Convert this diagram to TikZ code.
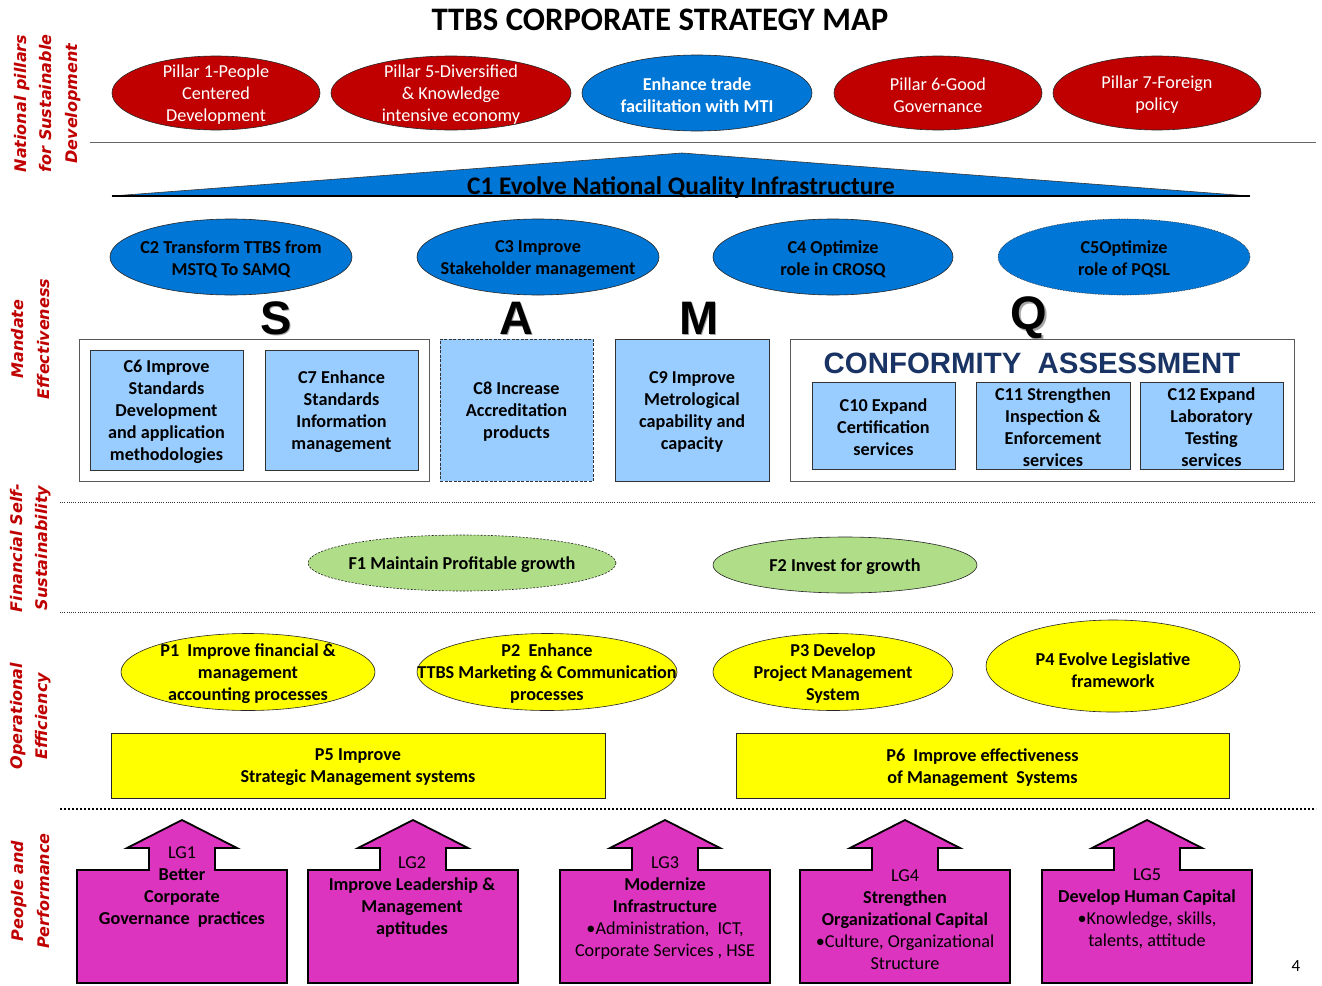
\documentclass[tikz,border=0pt]{standalone}
\usepackage{fontspec}
\setmainfont{Carlito}
\newfontfamily\dejafont{DejaVu Sans}
\newfontfamily\arialfont{Liberation Sans}
\usetikzlibrary{shapes.geometric}
\definecolor{pred}{RGB}{192,0,0}
\definecolor{oblue}{RGB}{0,118,214}
\definecolor{lblue}{RGB}{153,204,255}
\definecolor{fgreen}{RGB}{176,221,136}
\definecolor{pyel}{RGB}{255,255,0}
\definecolor{lgmag}{RGB}{220,52,190}
\definecolor{navy}{RGB}{25,52,100}
\tikzset{
  txt/.style={font=\fontsize{18.2}{22}\selectfont, align=center, inner sep=0pt, yshift=-2pt},
  btxt/.style={font=\fontsize{18.2}{22}\selectfont\bfseries, align=center, inner sep=0pt, yshift=-2pt},
  wtxt/.style={txt, text=white},
  wbtxt/.style={btxt, text=white},
  ov/.style={ellipse, draw=black!85, line width=0.6pt, inner sep=0pt},
  redov/.style={ov, fill=pred},
  blueov/.style={ov, fill=oblue},
  greenov/.style={ov, fill=fgreen},
  yelov/.style={ov, fill=pyel},
  bx/.style={draw=black!80, line width=0.8pt, fill=lblue, inner sep=0pt},
  outer/.style={draw=black!65, line width=0.8pt, fill=white, inner sep=0pt},
  ybx/.style={draw=black!85, line width=0.8pt, fill=pyel, inner sep=0pt},
  side/.style={rotate=90, text=pred, align=center, inner sep=0pt,
     font=\dejafont\bfseries\itshape\fontsize{16}{25.5}\selectfont},
  samq/.style={inner sep=0pt, font=\arialfont\bfseries\fontsize{47}{47}\selectfont},
  lg/.style={draw=black, line width=1.8pt, fill=lgmag, line join=miter},
  sep/.style={line width=1pt, dash pattern=on 1pt off 1.2pt, draw=black!80},
}
\newcommand\lgshape{%
  \draw[lg] (-105,983) -- (-105,870) -- (-33,870) -- (-33,848) -- (-55,848) -- (0,820)
    -- (55,848) -- (33,848) -- (33,870) -- (105,870) -- (105,983) -- cycle;}
\begin{document}
\begin{tikzpicture}[x=1pt,y=-1pt]
\useasboundingbox (0,0) rectangle (1322,985);
\fill[white] (0,0) rectangle (1322,985);

% title
\node[inner sep=0pt, font=\fontsize{32.8}{36}\selectfont\bfseries] (title) at (660,20) {TTBS CORPORATE STRATEGY MAP};

% side labels
\node[side] (lab1) at (47.5,103.5) {National pillars\\for Sustainable\\Development};
\node[side] (lab2) at (30.5,339) {Mandate\\Effectiveness};
\node[side] (lab3) at (30.5,548) {Financial Self-\\Sustainability};
\node[side] (lab4) at (30.5,716) {Operational\\Efficiency};
\node[side] (lab5) at (30.5,891) {People and\\Performance};

% national pillars
\node[redov, minimum width=208, minimum height=74] (np1) at (216,93) {};
\node[wtxt] (np1t) at (np1.center) {Pillar 1-People\\Centered\\Development};
\node[redov, minimum width=240, minimum height=74] (np5) at (451,93) {};
\node[wtxt] (np5t) at (np5.center) {Pillar 5-Diversified\\\& Knowledge\\intensive economy};
\node[blueov, minimum width=230, minimum height=76] (mti) at (697,93) {};
\node[wbtxt] (mtit) at (mti.center) {Enhance trade\\facilitation with MTI};
\node[redov, minimum width=208, minimum height=74] (np6) at (938,93) {};
\node[wtxt] (np6t) at (np6.center) {Pillar 6-Good\\Governance};
\node[redov, minimum width=208, minimum height=74] (np7) at (1157,93) {};
\node[wtxt] (np7t) at (np7.center) {Pillar 7-Foreign\\policy};

\draw[black!60, line width=0.8pt] (90,142) -- (1316,142);

% C1 triangle
\coordinate (c1l) at (112,196);
\coordinate (c1a) at (682,153);
\coordinate (c1r) at (1250,196);
\draw[fill=oblue, draw=black!80, line width=0.6pt] (c1l) -- (c1a) -- (c1r) -- cycle;
\draw[black, line width=1.5pt] (c1l) -- (c1r);
\node[inner sep=0pt, font=\fontsize{25.3}{28}\selectfont\bfseries] (c1t) at (681,187.5) {C1 Evolve National Quality Infrastructure};

% C2-C5
\node[blueov, minimum width=242, minimum height=76] (c2) at (231,257) {};
\node[btxt] (c2t) at (c2.center) {C2 Transform TTBS from\\MSTQ To SAMQ};
\node[blueov, minimum width=242, minimum height=76] (c3) at (538,257) {};
\node[btxt] (c3t) at (c3.center) {C3 Improve\\Stakeholder management};
\node[blueov, minimum width=240, minimum height=76] (c4) at (833,257) {};
\node[btxt] (c4t) at (c4.center) {C4 Optimize\\role in CROSQ};
\node[blueov, densely dotted, minimum width=252, minimum height=76] (c5) at (1124,257) {};
\node[btxt] (c5t) at (c5.center) {C5Optimize\\role of PQSL};

% SAMQ letters
\node[samq, text=black!35] (Ss) at (277.5,319.5) {S};
\node[samq] (S) at (276,318) {S};
\node[samq, text=black!35] (As) at (517.5,319.5) {A};
\node[samq] (A) at (516,318) {A};
\node[samq, text=black!35] (Ms) at (700.5,319.5) {M};
\node[samq] (M) at (699,318) {M};
\node[samq, text=black!35] (Qs) at (1030.5,319.5) {Q};
\node[samq] (Q) at (1029,318) {Q};

% S box
\node[outer, minimum width=350, minimum height=142] (sbox) at (254,410) {};
\node[bx, minimum width=153, minimum height=120] (c6) at (166.5,410) {};
\node[btxt] (c6t) at (c6.center) {C6 Improve\\Standards\\Development\\and application\\methodologies};
\node[bx, minimum width=153, minimum height=120] (c7) at (341.5,410) {};
\node[btxt] (c7t) at (c7.center) {C7 Enhance\\Standards\\Information\\management};
% A
\node[bx, dash pattern=on 3pt off 1.5pt, minimum width=153, minimum height=142] (c8) at (516.5,410) {};
\node[btxt] (c8t) at (c8.center) {C8 Increase\\Accreditation\\products};
% M
\node[bx, minimum width=154, minimum height=142] (c9) at (692,410) {};
\node[btxt] (c9t) at (c9.center) {C9 Improve\\Metrological\\capability and\\capacity};
% Q
\node[outer, minimum width=504, minimum height=142] (qbox) at (1042,410) {};
\node[inner sep=0pt, text=navy, font=\arialfont\bfseries\fontsize{29.4}{31}\selectfont] (ca) at (1032,363) {CONFORMITY\ \ ASSESSMENT};
\node[bx, minimum width=143, minimum height=87] (c10) at (883.5,425.5) {};
\node[btxt] (c10t) at (c10.center) {C10 Expand\\Certification\\services};
\node[bx, minimum width=154, minimum height=87] (c11) at (1053,425.5) {};
\node[btxt] (c11t) at (c11.center) {C11 Strengthen\\Inspection \&\\Enforcement\\services};
\node[bx, minimum width=143, minimum height=87] (c12) at (1211.5,425.5) {};
\node[btxt] (c12t) at (c12.center) {C12 Expand\\Laboratory\\Testing\\services};

% separators
\draw[sep] (60,502) -- (1316,502);
\draw[sep] (60,612) -- (1316,612);
\draw[line width=2pt, dash pattern=on 2pt off 2pt, draw=black] (60,808.5) -- (1316,808.5);

% financial
\node[greenov, dash pattern=on 2pt off 1.5pt, minimum width=308, minimum height=56] (f1) at (462,563) {};
\node[btxt] (f1t) at (f1.center) {F1 Maintain Profitable growth};
\node[greenov, minimum width=264, minimum height=56] (f2) at (845,565) {};
\node[btxt] (f2t) at (f2.center) {F2 Invest for growth};

% operational
\node[yelov, minimum width=254, minimum height=77] (op1) at (248,672) {};
\node[btxt] (op1t) at (op1.center) {P1\ \ Improve financial \&\\management\\accounting processes};
\node[yelov, minimum width=260, minimum height=77] (op2) at (547,672) {};
\node[btxt] (op2t) at (op2.center) {P2\ \ Enhance\\TTBS Marketing \& Communication\\processes};
\node[yelov, minimum width=240, minimum height=77] (op3) at (833,672) {};
\node[btxt] (op3t) at (op3.center) {P3 Develop\\Project Management\\System};
\node[yelov, minimum width=254, minimum height=92] (op4) at (1113,666) {};
\node[btxt] (op4t) at (1113,668) {P4 Evolve Legislative\\framework};

\node[ybx, minimum width=494, minimum height=65] (p5) at (358,765.5) {};
\node[btxt] (p5t) at (p5.center) {P5 Improve\\Strategic Management systems};
\node[ybx, minimum width=493, minimum height=65] (p6) at (982.5,765.5) {};
\node[btxt] (p6t) at (p6.center) {P6\ \ Improve effectiveness\\of Management\ \ Systems};

% learning & growth arrows
\begin{scope}[xshift=182pt]\lgshape\end{scope}
\node[txt] (lg1) at (182,885) {LG1\\\textbf{Better}\\\textbf{Corporate}\\\textbf{Governance\ \ practices}};
\begin{scope}[xshift=413pt]\lgshape\end{scope}
\node[txt] (lg2) at (412,895.5) {LG2\\\textbf{Improve Leadership \&}\\\textbf{Management}\\\textbf{aptitudes}};
\begin{scope}[xshift=665pt]\lgshape\end{scope}
\node[txt] (lg3) at (665,906.5) {LG3\\\textbf{Modernize}\\\textbf{Infrastructure}\\\textbullet Administration,\ \ ICT,\\Corporate Services , HSE};
\begin{scope}[xshift=905pt]\lgshape\end{scope}
\node[txt] (lg4) at (905,918) {LG4\\\textbf{Strengthen}\\\textbf{Organizational Capital}\\\textbullet Culture, Organizational\\Structure};
\begin{scope}[xshift=1147pt]\lgshape\end{scope}
\node[txt] (lg5) at (1147,907) {LG5\\\textbf{Develop Human Capital}\\\textbullet Knowledge, skills,\\talents, attitude};

\node[inner sep=0pt, font=\fontsize{17}{19}\selectfont] (pg) at (1296,966) {4};
\end{tikzpicture}
\end{document}
